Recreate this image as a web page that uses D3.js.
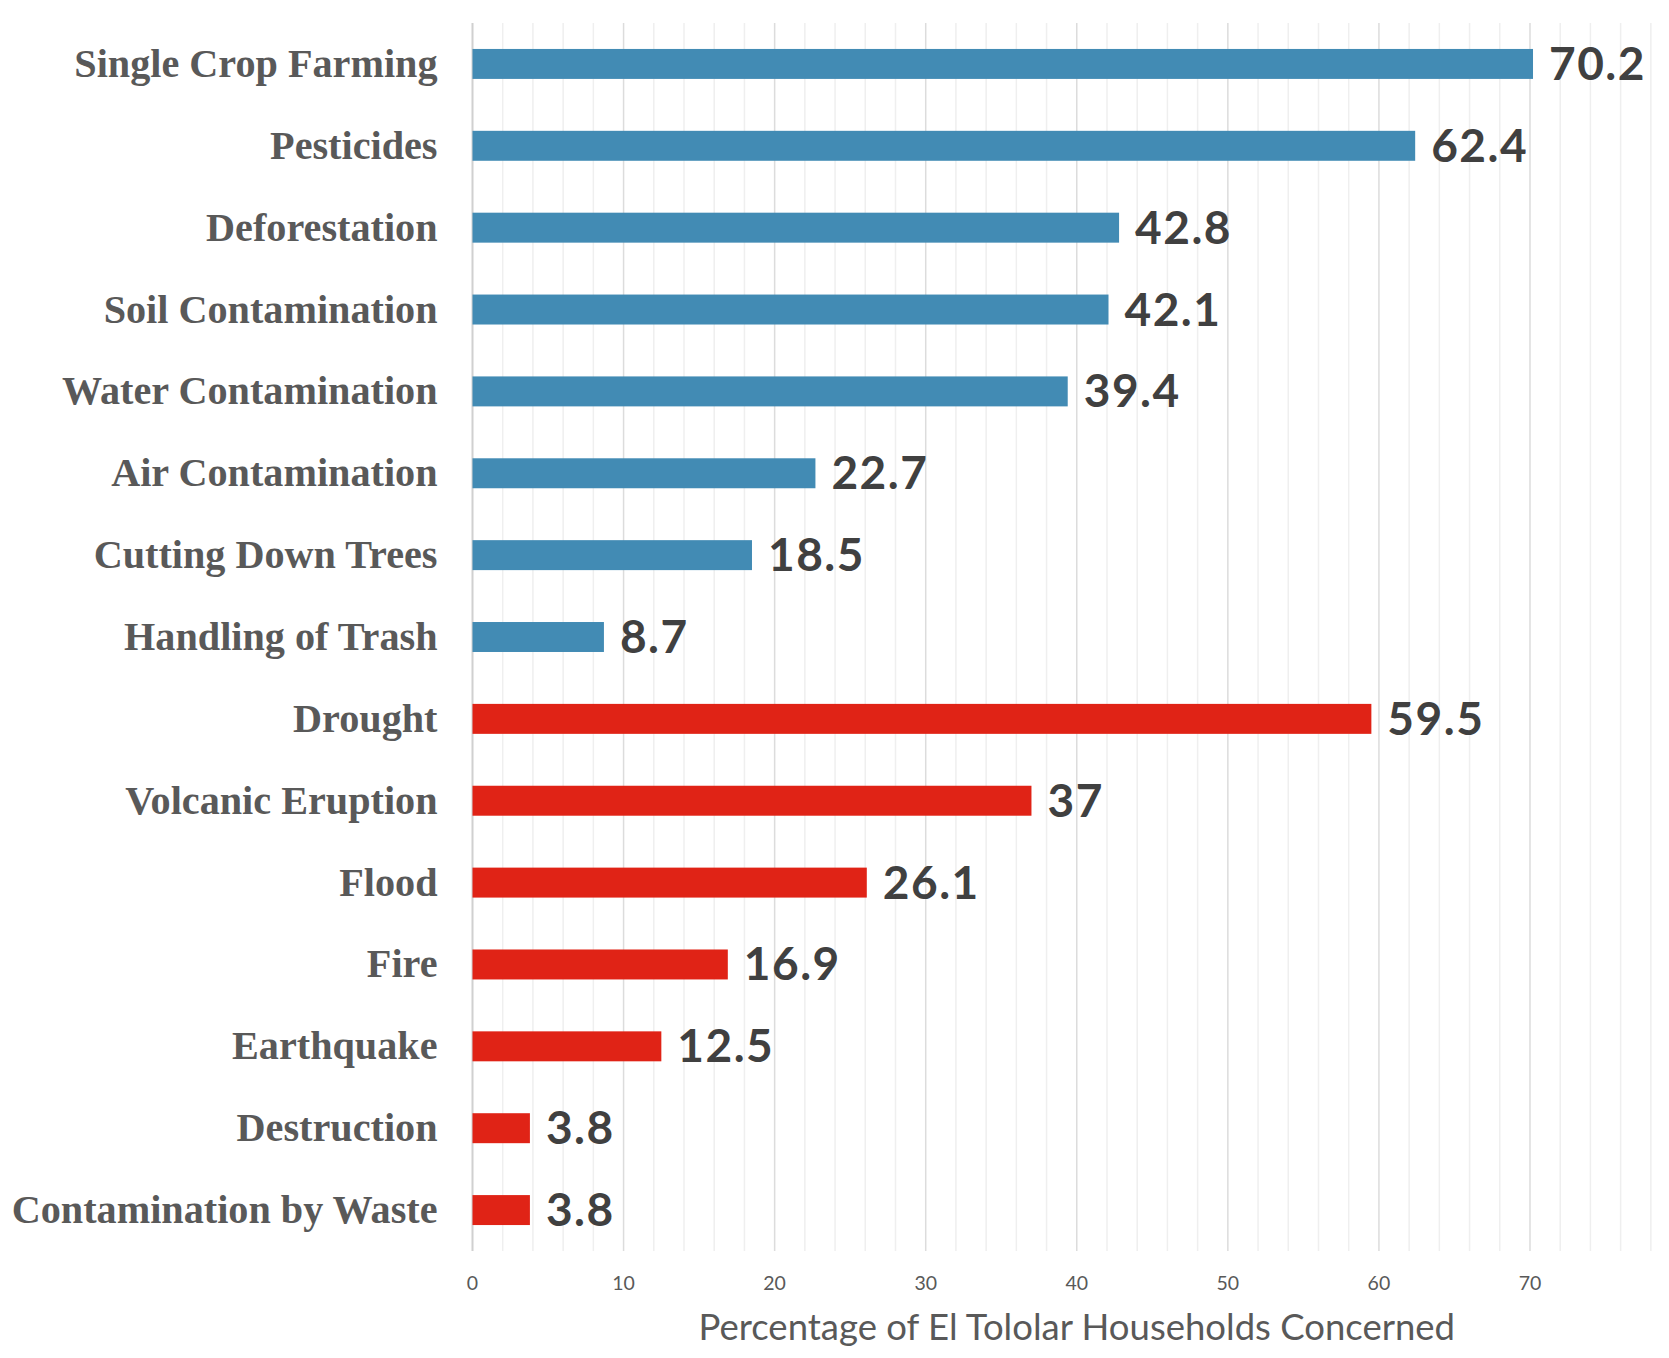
<!DOCTYPE html>
<html>
<head>
<meta charset="utf-8">
<script src="https://cdn.jsdelivr.net/npm/d3@7"></script>
<style>
  body { margin: 0; background: #fff; }
  svg { display: block; }
</style>
</head>
<body>
<svg width="1669" height="1358"></svg>
<script>
// concerns, top to bottom
var categories = [
  'Single Crop Farming', 'Pesticides', 'Deforestation', 'Soil Contamination',
  'Water Contamination', 'Air Contamination', 'Cutting Down Trees', 'Handling of Trash',
  'Drought', 'Volcanic Eruption', 'Flood', 'Fire', 'Earthquake', 'Destruction',
  'Contamination by Waste'
];
var values = [70.2, 62.4, 42.8, 42.1, 39.4, 22.7, 18.5, 8.7, 59.5, 37, 26.1, 16.9, 12.5, 3.8, 3.8];
// 'human' = human-caused, 'natural' = natural hazards
var groups = ['human', 'human', 'human', 'human', 'human', 'human', 'human', 'human',
  'natural', 'natural', 'natural', 'natural', 'natural', 'natural', 'natural'];
var xTicks = [0, 10, 20, 30, 40, 50, 60, 70];
var xMinor = d3.range(0, 80, 2);
var xTitle = 'Percentage of El Tololar Households Concerned';

var colors = { human: '#428bb4', natural: '#e02316' };

var svg = d3.select('svg');
var plotLeft = 472.5, plotTop = 23, plotBottom = 1251;

var x = d3.scaleLinear()
    .domain([0, 80])
    .range([plotLeft, plotLeft + 80 * 15.107]);

var y = d3.scaleBand()
    .domain(categories)
    .range([plotTop, plotBottom])
    .paddingInner(0.634)
    .paddingOuter(0.317);

// gridlines
svg.append('g').selectAll('line')
  .data(xMinor)
  .enter()
  .append('line')
  .attr('x1', function(d) { return x(d); })
  .attr('x2', function(d) { return x(d); })
  .attr('y1', plotTop)
  .attr('y2', plotBottom)
  .attr('stroke', function(d) { return d === 0 ? '#d0d0d0' : (d % 10 === 0 ? '#dcdcdc' : '#efefef'); })
  .attr('stroke-width', function(d) { return d === 0 ? 2 : 1.5; });

// bars
svg.append('g').selectAll('rect')
  .data(categories)
  .enter()
  .append('rect')
  .attr('x', x(0))
  .attr('y', function(d) { return y(d); })
  .attr('width', function(d, i) { return x(values[i]) - x(0); })
  .attr('height', y.bandwidth())
  .attr('fill', function(d, i) { return colors[groups[i]]; });

// value labels
svg.append('g').selectAll('text')
  .data(categories)
  .enter()
  .append('text')
  .attr('x', function(d, i) { return x(values[i]) + 16; })
  .attr('y', function(d) { return y(d) + y.bandwidth() / 2 + 16; })
  .attr('font-family', 'Lato, sans-serif')
  .attr('font-weight', 'bold')
  .attr('font-size', 46)
  .attr('letter-spacing', 1.5)
  .attr('fill', '#404040')
  .text(function(d, i) { return values[i]; });

// category labels
svg.append('g').selectAll('text')
  .data(categories)
  .enter()
  .append('text')
  .attr('x', plotLeft - 35)
  .attr('y', function(d) { return y(d) + y.bandwidth() / 2 + 13; })
  .attr('text-anchor', 'end')
  .attr('font-family', '"Liberation Serif", "Times New Roman", serif')
  .attr('font-weight', 'bold')
  .attr('font-size', 40.2)
  .attr('fill', '#595959')
  .text(function(d) { return d; });

// tick labels
svg.append('g').selectAll('text')
  .data(xTicks)
  .enter()
  .append('text')
  .attr('x', function(d) { return x(d); })
  .attr('y', 1290)
  .attr('text-anchor', 'middle')
  .attr('font-family', 'Lato, sans-serif')
  .attr('font-size', 19.5)
  .attr('fill', '#595959')
  .text(function(d) { return d; });

// axis title
svg.append('text')
  .attr('x', (x(0) + x(80)) / 2)
  .attr('y', 1340)
  .attr('text-anchor', 'middle')
  .attr('font-family', 'Lato, sans-serif')
  .attr('font-size', 36.5)
  .attr('fill', '#595959')
  .text(xTitle);
</script>
</body>
</html>
